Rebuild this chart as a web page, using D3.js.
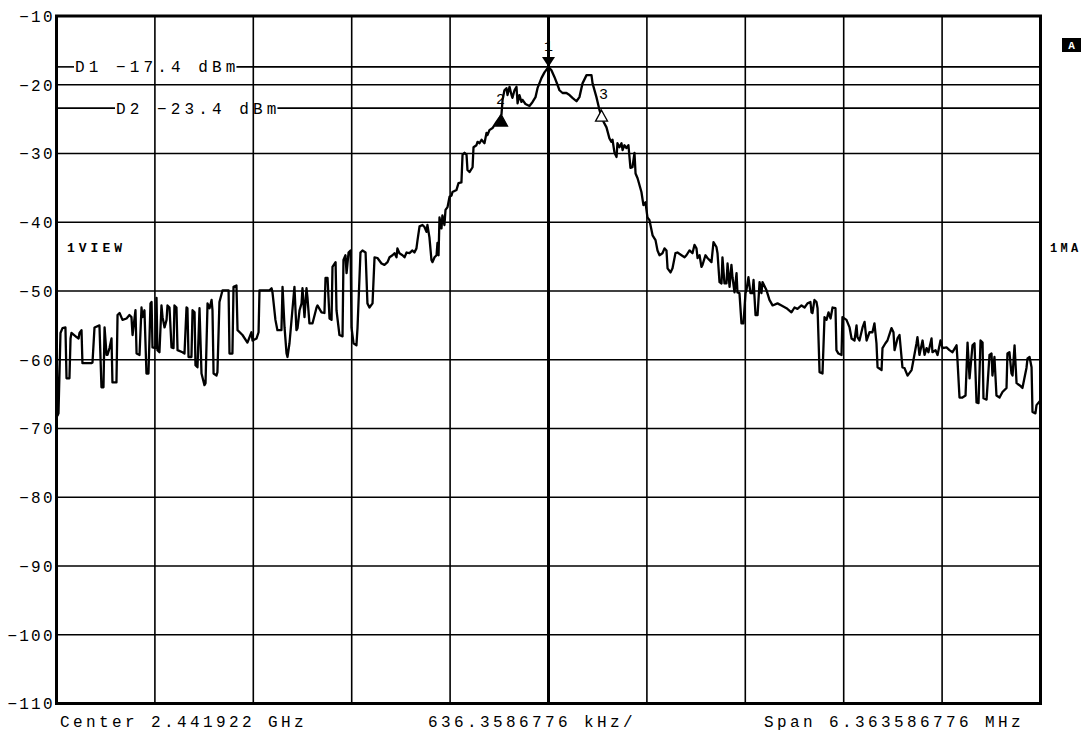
<!DOCTYPE html>
<html>
<head>
<meta charset="utf-8">
<script src="https://cdn.jsdelivr.net/npm/d3@7"></script>
<style>
  html, body { margin: 0; padding: 0; background: #fff; }
  svg { display: block; }
  text { font-family: "Liberation Mono", "DejaVu Sans Mono", monospace; fill: #000; }
</style>
</head>
<body>
<svg id="chart" width="1083" height="733"></svg>
<script>
// ---- Instrument settings ----
const centerFreqGHz = 2.441922;
const spanMHz = 6.363586776;
const refLevelDbm = -10;
const dbPerDiv = 10;
const levelTicks = [-10, -20, -30, -40, -50, -60, -70, -80, -90, -100, -110];

// ---- Display lines ----
const displayLineNames = ["D1", "D2"];
const displayLineLevels = [-17.4, -23.4];

// ---- Markers ----
const markerIds = ["1", "2", "3"];
const markerOffsetKHz = [0, -304, 343];
const markerLevelDbm = [-17.4, -24.4, -23.7];

// ---- Trace 1 (offset from center frequency, kHz / level, dBm) ----
const traceOffsetKHz = [
  -3182,-3175,-3169,-3156,-3143,-3124,-3117,-3098,-3091,-3085,-3052,-3039,-3033,-3020,-3014,-2955,-2949,-2936,-2904,-2891,
  -2878,-2871,-2858,-2852,-2839,-2826,-2820,-2794,-2787,-2774,-2755,-2729,-2710,-2697,-2690,-2671,-2664,-2645,-2632,-2626,
  -2613,-2600,-2587,-2574,-2567,-2561,-2542,-2535,-2529,-2516,-2503,-2496,-2483,-2470,-2464,-2451,-2438,-2425,-2419,-2406,
  -2399,-2367,-2354,-2341,-2335,-2328,-2309,-2302,-2289,-2283,-2270,-2257,-2244,-2225,-2218,-2205,-2192,-2179,-2173,-2166,
  -2147,-2141,-2128,-2108,-2069,-2063,-2044,-2037,-2018,-2011,-1979,-1947,-1921,-1914,-1888,-1875,-1869,-1850,-1804,-1791,
  -1785,-1766,-1753,-1727,-1720,-1707,-1694,-1688,-1675,-1643,-1630,-1623,-1610,-1597,-1591,-1578,-1565,-1559,-1546,-1526,
  -1500,-1494,-1468,-1449,-1442,-1429,-1416,-1403,-1397,-1377,-1371,-1352,-1332,-1326,-1313,-1306,-1293,-1280,-1274,-1261,
  -1242,-1235,-1216,-1203,-1183,-1171,-1158,-1138,-1125,-1106,-1080,-1061,-1041,-1028,-1009,-996,-983,-977,-964,-944,
  -931,-918,-899,-880,-867,-854,-847,-834,-815,-802,-789,-783,-770,-757,-750,-737,-724,-718,-711,-705,
  -692,-686,-673,-666,-653,-640,-627,-621,-595,-582,-563,-556,-543,-530,-524,-511,-491,-485,-466,-459,
  -446,-433,-414,-401,-394,-382,-362,-336,-317,-304,-297,-285,-272,-265,-252,-239,-233,-220,-207,-200,
  -188,-175,-168,-149,-123,-103,-84,-71,-45,-26,0,19,39,58,71,91,116,136,155,181,
  200,220,246,278,285,310,330,349,375,394,407,414,427,440,446,459,472,479,491,504,
  517,530,543,556,563,576,601,614,627,640,653,673,692,705,718,737,750,763,770,789,
  802,821,834,860,880,892,912,931,944,957,964,977,989,996,1015,1028,1054,1067,1086,1093,
  1106,1119,1125,1138,1151,1158,1171,1183,1190,1203,1216,1222,1235,1248,1261,1274,1280,1293,1306,1319,
  1326,1339,1352,1365,1377,1384,1410,1429,1449,1481,1507,1539,1571,1591,1610,1636,1656,1675,1694,1701,
  1707,1720,1733,1740,1753,1772,1785,1798,1811,1824,1837,1856,1862,1875,1895,1901,1927,1947,1960,1979,
  1992,1998,2011,2031,2044,2057,2076,2095,2108,2121,2128,2154,2160,2179,2192,2218,2231,2238,2257,2270,
  2289,2302,2322,2348,2354,2380,2386,2399,2419,2432,2445,2457,2477,2483,2503,2516,2535,2548,2574,2593,
  2613,2639,2645,2658,2677,2697,2710,2723,2742,2755,2768,2781,2794,2807,2813,2833,2852,2865,2871,2884,
  2897,2917,2936,2962,2968,2981,2994,3001,3014,3027,3046,3065,3091,3098,3111,3124,3130,3149,3156,3182
];
const traceLevelDbm = [
  -55.7,-68.1,-67.8,-56.1,-55.4,-55.3,-62.7,-62.7,-56.9,-56.1,-56.7,-56.9,-56.1,-55.7,-60.5,-60.5,-60.4,-55.3,-55.0,-64.0,
  -64.0,-55.3,-59.3,-59.3,-58.3,-56.9,-63.3,-63.3,-53.5,-53.2,-54.2,-54.0,-53.5,-53.8,-56.4,-52.8,-59.1,-59.3,-52.4,-53.8,
  -52.8,-62.0,-62.0,-51.8,-51.6,-58.2,-58.3,-51.0,-58.6,-58.9,-52.1,-53.8,-55.3,-54.2,-52.1,-52.4,-58.2,-58.3,-52.1,-52.4,
  -58.6,-58.9,-59.1,-52.4,-52.5,-59.6,-59.6,-52.8,-53.1,-60.8,-61.1,-52.5,-62.0,-63.7,-63.4,-51.8,-52.5,-51.3,-52.8,-62.0,
  -62.3,-61.8,-51.6,-49.9,-49.9,-59.1,-59.1,-49.4,-49.2,-55.7,-56.4,-57.5,-56.0,-57.2,-56.9,-56.0,-49.9,-49.9,-49.9,-49.6,
  -50.2,-54.2,-55.7,-55.7,-49.4,-55.3,-59.1,-59.6,-57.6,-49.4,-55.7,-55.4,-52.8,-51.8,-49.6,-53.8,-49.6,-50.9,-54.7,-54.7,
  -52.4,-52.1,-53.1,-53.2,-48.1,-48.1,-54.0,-54.2,-46.5,-45.8,-52.8,-56.4,-56.6,-45.5,-44.8,-47.4,-44.4,-44.1,-55.3,-57.6,
  -57.9,-55.3,-44.4,-44.1,-44.4,-51.8,-52.4,-51.8,-45.1,-45.2,-46.0,-46.2,-45.8,-45.1,-44.8,-44.5,-45.1,-43.8,-44.5,-44.8,
  -45.1,-44.4,-44.5,-44.1,-44.4,-43.8,-42.6,-40.6,-40.4,-40.7,-41.4,-40.4,-42.2,-45.5,-45.8,-45.1,-44.8,-43.0,-44.8,-39.3,
  -40.9,-39.0,-40.4,-38.2,-37.8,-36.3,-36.1,-35.6,-35.3,-34.3,-34.2,-30.2,-29.9,-30.2,-32.4,-32.7,-32.0,-29.1,-28.8,-28.3,
  -28.5,-28.0,-28.5,-27.0,-27.3,-26.6,-26.3,-25.4,-24.8,-24.3,-22.2,-20.8,-20.5,-21.5,-20.3,-21.5,-21.9,-20.8,-20.3,-22.7,
  -21.5,-22.5,-22.2,-22.8,-23.1,-22.5,-21.8,-20.5,-19.0,-18.2,-17.4,-17.9,-18.9,-20.0,-20.8,-21.2,-21.2,-21.5,-21.9,-22.4,
  -21.8,-19.8,-18.6,-18.6,-19.8,-21.8,-23.7,-25.1,-26.2,-27.8,-28.3,-28.0,-29.9,-30.5,-28.5,-29.1,-28.5,-29.5,-28.8,-29.2,
  -28.8,-32.1,-32.0,-29.9,-32.9,-33.6,-35.6,-37.5,-37.1,-39.3,-39.7,-41.9,-42.6,-44.1,-44.8,-44.5,-43.8,-44.1,-46.7,-47.3,
  -46.7,-44.5,-44.4,-44.8,-45.1,-44.8,-44.1,-44.5,-43.3,-43.8,-45.2,-44.8,-46.5,-46.2,-44.8,-45.2,-45.8,-42.9,-43.6,-44.5,
  -48.7,-48.9,-45.1,-48.9,-48.9,-46.0,-49.4,-46.2,-48.0,-50.2,-47.4,-50.2,-50.3,-54.7,-54.7,-50.3,-49.9,-48.0,-50.3,-50.3,
  -48.4,-53.5,-53.5,-48.7,-50.3,-48.7,-49.9,-51.3,-52.1,-51.8,-52.1,-52.5,-53.1,-52.4,-52.6,-52.1,-52.4,-51.8,-51.6,-53.1,
  -53.2,-51.3,-51.6,-52.5,-61.8,-62.0,-53.8,-54.2,-53.1,-54.0,-52.4,-52.5,-58.6,-59.1,-59.3,-53.8,-54.2,-55.3,-56.9,-57.2,
  -55.0,-56.7,-57.2,-55.3,-54.5,-57.2,-56.0,-56.0,-54.7,-57.6,-61.1,-61.5,-58.3,-57.6,-57.2,-55.4,-56.0,-58.6,-56.9,-56.4,
  -61.1,-61.2,-62.3,-61.5,-60.8,-57.6,-56.7,-59.3,-57.2,-59.3,-58.3,-58.9,-56.9,-58.9,-58.6,-59.3,-57.2,-58.3,-58.2,-58.6,
  -58.9,-57.9,-60.1,-65.5,-65.5,-65.2,-57.5,-62.7,-57.9,-57.6,-66.2,-66.3,-57.2,-57.5,-65.6,-65.8,-59.3,-59.1,-62.3,-59.6,
  -65.2,-65.5,-64.7,-64.1,-59.1,-58.9,-62.0,-62.3,-57.9,-63.4,-63.7,-64.1,-61.2,-59.8,-59.6,-61.1,-67.6,-67.8,-66.6,-65.9
];

// ---- Layout ----
const plot = { left: 56.5, right: 1040.5, top: 16, bottom: 703.5 };
const spanKHz = spanMHz * 1000;
const divKHz = spanKHz / 10;

const svg = d3.select("#chart");
svg.append("rect").attr("width", 1083).attr("height", 733).attr("fill", "#fff");

const x = d3.scaleLinear().domain([-spanKHz / 2, spanKHz / 2]).range([plot.left, plot.right]);
const y = d3.scaleLinear().domain([refLevelDbm, refLevelDbm - 10 * dbPerDiv]).range([plot.top, plot.bottom]);

const gridLayer = svg.append("g");
const lineLayer = svg.append("g");
const traceLayer = svg.append("g");
const textLayer = svg.append("g");

// ---- Graticule ----
const grid = gridLayer.attr("stroke", "#000").attr("fill", "none");
grid.selectAll("line.v").data(d3.range(-4, 5).map(k => k * divKHz)).join("line")
  .attr("class", "v")
  .attr("x1", d => x(d)).attr("x2", d => x(d))
  .attr("y1", plot.top).attr("y2", plot.bottom)
  .attr("stroke-width", d => Math.abs(d) < 1e-6 ? 3 : 1.6);
grid.selectAll("line.h").data(levelTicks.slice(1, -1)).join("line")
  .attr("class", "h")
  .attr("x1", plot.left).attr("x2", plot.right)
  .attr("y1", d => y(d)).attr("y2", d => y(d))
  .attr("stroke-width", 1.6);

// ---- Level labels ----
const yAxis = d3.axisLeft(y).tickValues(levelTicks).tickSize(0).tickPadding(1.8).tickFormat(d3.format("d"));
const yg = textLayer.append("g").attr("transform", `translate(${plot.left},0)`).call(yAxis);
yg.select(".domain").remove();
yg.selectAll("text")
  .attr("font-family", "Liberation Mono, monospace")
  .attr("font-size", 16)
  .attr("letter-spacing", 2.2)
  .attr("fill", "#000")
  .attr("dy", "0.34em");

// ---- Display lines with labels ----
const dLabelX = [75, 116];
const fmtLevel = d3.format(".1f");
displayLineNames.forEach((name, i) => {
  const yy = y(displayLineLevels[i]);
  const t = textLayer.append("text")
    .attr("x", dLabelX[i]).attr("y", yy).attr("dy", "0.34em")
    .attr("font-size", 16).attr("letter-spacing", 4.1)
    .text(`${name} ${fmtLevel(displayLineLevels[i])} dBm`);
  const bb = t.node().getBBox();
  const g = lineLayer.append("g").attr("stroke", "#000").attr("stroke-width", 1.6);
  g.append("line").attr("x1", plot.left).attr("x2", bb.x - 1).attr("y1", yy).attr("y2", yy);
  g.append("line").attr("x1", bb.x + bb.width - 3).attr("x2", plot.right).attr("y1", yy).attr("y2", yy);
});

// ---- Trace ----
const tracePts = traceOffsetKHz.map((f, i) => [f, traceLevelDbm[i]]);
traceLayer.append("path")
  .datum(tracePts)
  .attr("fill", "none")
  .attr("stroke", "#000")
  .attr("stroke-width", 2.3)
  .attr("stroke-linejoin", "round")
  .attr("d", d3.line().x(d => x(d[0])).y(d => y(d[1])));

// ---- Frame ----
traceLayer.append("rect")
  .attr("x", plot.left).attr("y", plot.top)
  .attr("width", plot.right - plot.left).attr("height", plot.bottom - plot.top)
  .attr("fill", "none").attr("stroke", "#000").attr("stroke-width", 3);

// ---- Markers ----
markerIds.forEach((id, i) => {
  const mx = x(markerOffsetKHz[i]), my = y(markerLevelDbm[i]);
  const g = textLayer.append("g").attr("transform", `translate(${mx},${my})`);
  if (i === 0) {
    g.append("path").attr("d", "M0,0L6.5,-10L-6.5,-10Z").attr("fill", "#000");
    g.append("text").attr("x", 0).attr("y", -21).attr("dy", "0.34em")
      .attr("text-anchor", "middle").attr("font-size", 15).text(id);
  } else {
    g.append("path").attr("d", "M0,0L6,11L-6,11Z")
      .attr("fill", i === 1 ? "#000" : "#fff").attr("stroke", "#000").attr("stroke-width", 1.3);
    g.append("text").attr("x", i === 1 ? -1 : 2).attr("y", -16).attr("dy", "0.34em")
      .attr("text-anchor", "middle").attr("font-size", 15).text(id);
  }
});

// ---- Side annotations ----
textLayer.append("text").attr("x", 67).attr("y", 252).attr("font-size", 13)
  .attr("font-weight", "bold").attr("letter-spacing", 4).text("1VIEW");
textLayer.append("text").attr("x", 1050).attr("y", 252).attr("font-size", 12)
  .attr("font-weight", "bold").attr("letter-spacing", 3.3).text("1MA");
textLayer.append("rect").attr("x", 1062).attr("y", 38).attr("width", 19).attr("height", 14).attr("fill", "#000");
textLayer.append("text").attr("x", 1071.5).attr("y", 49).attr("text-anchor", "middle")
  .attr("font-size", 11).attr("font-weight", "bold").style("fill", "#fff").text("A");

// ---- Sweep settings row ----
const footer = [
  { text: `Center ${centerFreqGHz} GHz`, x: 60 },
  { text: `${divKHz.toFixed(7)} kHz/`, x: 428 },
  { text: `Span ${spanMHz} MHz`, x: 764 }
];
textLayer.selectAll("text.footer").data(footer).join("text")
  .attr("class", "footer")
  .attr("x", d => d.x).attr("y", 727)
  .attr("font-size", 16).attr("letter-spacing", 3.4)
  .text(d => d.text);
</script>
</body>
</html>
